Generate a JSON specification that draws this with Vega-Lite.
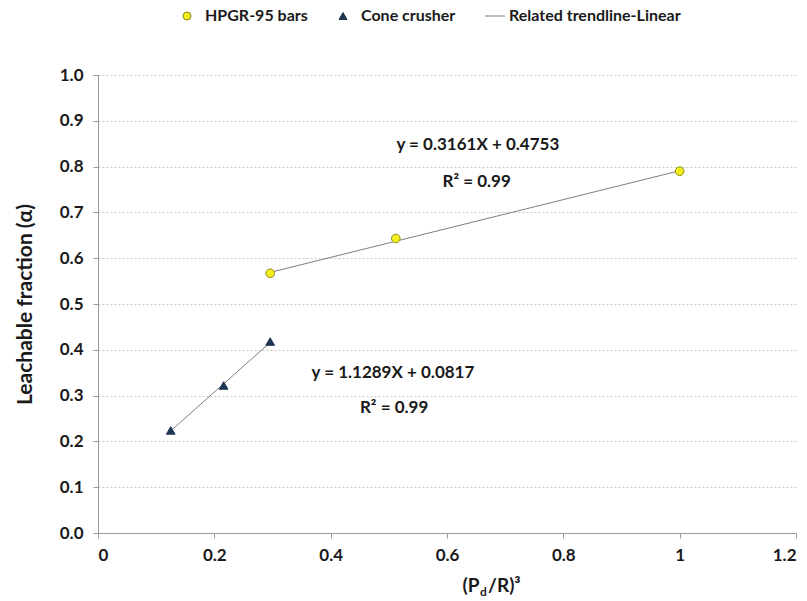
{
  "$schema": "https://vega.github.io/schema/vega-lite/v6.json",
  "width": 698,
  "height": 458,
  "autosize": "none",
  "padding": {"left": 98, "top": 75, "right": 11, "bottom": 68},
  "background": "white",
  "config": {
    "font": "Lato",
    "view": {"stroke": null},
    "axis": {
      "labelFont": "Lato",
      "labelFontWeight": "bold",
      "labelFontSize": 17,
      "labelColor": "#1a1a1a",
      "titleFont": "Lato",
      "titleFontWeight": "bold",
      "titleFontSize": 21,
      "titleColor": "#1a1a1a",
      "domainColor": "#9a9a9a",
      "tickColor": "#9a9a9a",
      "tickSize": 5
    }
  },
  "datasets": {
    "measured": [
      {"series": "HPGR-95 bars", "x": 0.296, "y": 0.567},
      {"series": "HPGR-95 bars", "x": 0.512, "y": 0.643},
      {"series": "HPGR-95 bars", "x": 1.0, "y": 0.79},
      {"series": "Cone crusher", "x": 0.125, "y": 0.224},
      {"series": "Cone crusher", "x": 0.216, "y": 0.322},
      {"series": "Cone crusher", "x": 0.296, "y": 0.418}
    ],
    "fits": [
      {"fit": "HPGR", "x": 0.296, "y": 0.569},
      {"fit": "HPGR", "x": 1.0, "y": 0.791},
      {"fit": "Cone", "x": 0.125, "y": 0.223},
      {"fit": "Cone", "x": 0.296, "y": 0.416}
    ],
    "equations": [
      {"x": 0.653, "y": 0.847, "text": "y = 0.3161X + 0.4753"},
      {"x": 0.651, "y": 0.766, "text": "R² = 0.99"},
      {"x": 0.507, "y": 0.349, "text": "y = 1.1289X + 0.0817"},
      {"x": 0.509, "y": 0.273, "text": "R² = 0.99"}
    ],
    "anchor": [{"x": 0.656, "y": -0.129}]
  },
  "layer": [
    {
      "data": {"name": "fits"},
      "mark": {"type": "line", "color": "#7f7f7f", "strokeWidth": 1},
      "encoding": {
        "x": {
          "field": "x", "type": "quantitative",
          "scale": {"domain": [0, 1.2], "nice": false},
          "axis": {"values": [0, 0.2, 0.4, 0.6, 0.8, 1, 1.2], "format": "~g", "grid": false, "title": null, "labelPadding": 9}
        },
        "y": {
          "field": "y", "type": "quantitative",
          "scale": {"domain": [0, 1], "nice": false},
          "axis": {
            "values": [0, 0.1, 0.2, 0.3, 0.4, 0.5, 0.6, 0.7, 0.8, 0.9, 1.0],
            "format": ".1f",
            "grid": true, "gridColor": "#c8c8c8", "gridDash": [2, 2],
            "title": "Leachable fraction (α)",
            "titlePadding": 24, "labelPadding": 10
          }
        },
        "detail": {"field": "fit"}
      }
    },
    {
      "data": {"name": "measured"},
      "mark": {"type": "point", "filled": true, "opacity": 1, "strokeWidth": 1, "size": 75},
      "encoding": {
        "x": {"field": "x", "type": "quantitative"},
        "y": {"field": "y", "type": "quantitative"},
        "color": {
          "field": "series", "type": "nominal",
          "scale": {
            "domain": ["HPGR-95 bars", "Cone crusher", "Related trendline-Linear"],
            "range": ["#f2ee1c", "#1d3452", "#ffffff"]
          },
          "legend": {
            "orient": "none", "legendX": 81, "legendY": -67,
            "direction": "horizontal", "title": null,
            "labelFont": "Lato", "labelFontWeight": "bold", "labelFontSize": 16,
            "labelColor": "#1a1a1a", "labelOffset": 10, "labelLimit": 400,
            "symbolSize": 64, "columnPadding": 27, "symbolStrokeWidth": 1
          }
        },
        "stroke": {
          "field": "series", "type": "nominal",
          "scale": {
            "domain": ["HPGR-95 bars", "Cone crusher", "Related trendline-Linear"],
            "range": ["#8f8c1e", "#1d3452", "#7f7f7f"]
          }
        },
        "shape": {
          "field": "series", "type": "nominal",
          "scale": {
            "domain": ["HPGR-95 bars", "Cone crusher", "Related trendline-Linear"],
            "range": ["circle", "triangle-up", "M-1.5,0H3.5"]
          }
        }
      }
    },
    {
      "data": {"name": "equations"},
      "mark": {"type": "text", "font": "Lato", "fontWeight": "bold", "fontSize": 17, "color": "#1a1a1a", "baseline": "middle"},
      "encoding": {
        "x": {"field": "x", "type": "quantitative"},
        "y": {"field": "y", "type": "quantitative"},
        "text": {"field": "text"}
      }
    },
    {
      "data": {"name": "anchor"},
      "mark": {"type": "text", "font": "Lato", "fontWeight": "bold", "fontSize": 19, "color": "#1a1a1a", "align": "right", "baseline": "alphabetic"},
      "encoding": {
        "x": {"field": "x", "type": "quantitative"},
        "y": {"field": "y", "type": "quantitative"},
        "text": {"value": "(P"}
      }
    },
    {
      "data": {"name": "anchor"},
      "mark": {"type": "text", "font": "Lato", "fontWeight": "bold", "fontSize": 12, "color": "#1a1a1a", "align": "left", "baseline": "alphabetic", "dy": 4, "dx": 0.5},
      "encoding": {
        "x": {"field": "x", "type": "quantitative"},
        "y": {"field": "y", "type": "quantitative"},
        "text": {"value": "d"}
      }
    },
    {
      "data": {"name": "anchor"},
      "mark": {"type": "text", "font": "Lato", "fontWeight": "bold", "fontSize": 19, "color": "#1a1a1a", "align": "left", "baseline": "alphabetic", "dx": 8.5},
      "encoding": {
        "x": {"field": "x", "type": "quantitative"},
        "y": {"field": "y", "type": "quantitative"},
        "text": {"value": "/R)³"}
      }
    }
  ]
}
